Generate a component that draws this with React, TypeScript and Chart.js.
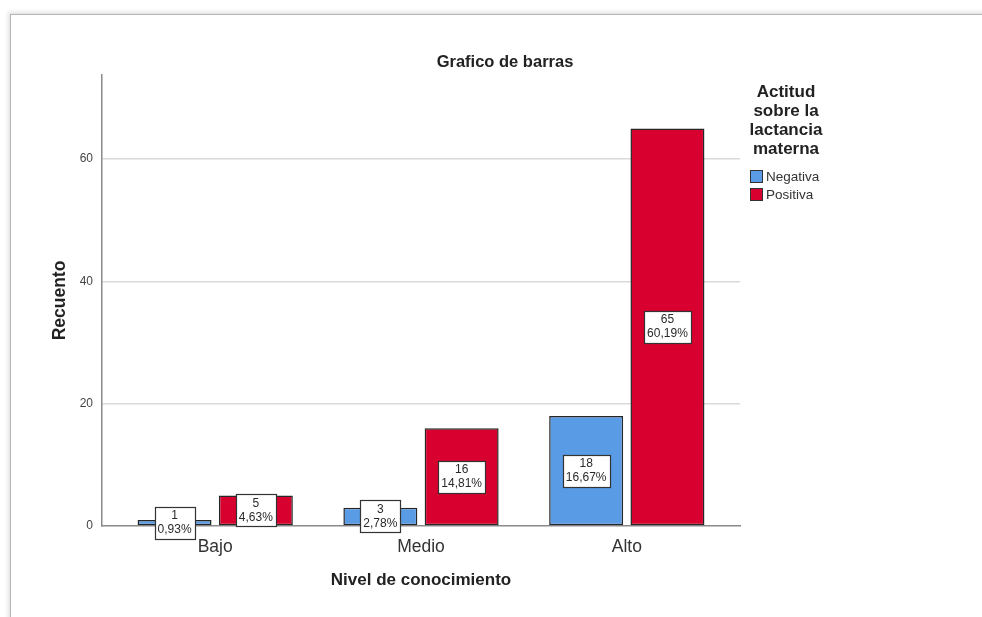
import React, { useEffect, useRef } from 'react';
import { Chart, registerables } from 'chart.js';

Chart.register(...registerables);

const chartTitle = 'Grafico de barras';
const xTitle = 'Nivel de conocimiento';
const yTitle = 'Recuento';
const legendTitle = ['Actitud', 'sobre la', 'lactancia', 'materna'];
const categories = ['Bajo', 'Medio', 'Alto'];
const seriesNames = ['Negativa', 'Positiva'];
const negativa = [1, 3, 18];
const positiva = [5, 16, 65];
const negativaPct = ['0,93%', '2,78%', '16,67%'];
const positivaPct = ['4,63%', '14,81%', '60,19%'];
const yTicks = [0, 20, 40, 60];
const seriesColors = ['#5a9be6', '#d7002f'];

const FONT = '"Liberation Sans", Arial, sans-serif';

const labelsPlugin = {
  id: 'valueBoxes',
  afterDatasetsDraw(chart: any) {
    const ctx = chart.ctx;
    const pctSets = [negativaPct, positivaPct];
    const valSets = [negativa, positiva];
    ctx.save();
    ctx.font = `12px ${FONT}`;
    ctx.textAlign = 'center';
    ctx.textBaseline = 'middle';
    chart.data.datasets.forEach((ds: any, di: number) => {
      const meta = chart.getDatasetMeta(di);
      meta.data.forEach((el: any, i: number) => {
        const l1 = String(valSets[di][i]);
        const l2 = pctSets[di][i];
        const w = Math.round(Math.max(ctx.measureText(l1).width, ctx.measureText(l2).width) + 6);
        const h = 32;
        const cx = el.x;
        const cy = (el.y + el.base) / 2;
        const x0 = Math.round(cx - w / 2) + 0.5;
        const y0 = Math.round(cy - h / 2) + 0.5;
        ctx.fillStyle = '#ffffff';
        ctx.fillRect(x0, y0, w, h);
        ctx.strokeStyle = '#333333';
        ctx.lineWidth = 1.2;
        ctx.strokeRect(x0, y0, w, h);
        ctx.fillStyle = '#2a2a2a';
        ctx.fillText(l1, cx, cy - 7);
        ctx.fillText(l2, cx, cy + 7);
      });
    });
    ctx.restore();
  },
};

const textPlugin = {
  id: 'textDecor',
  afterDraw(chart: any) {
    const ctx = chart.ctx;
    const area = chart.chartArea;
    ctx.save();
    ctx.fillStyle = '#222222';
    ctx.textAlign = 'center';
    ctx.textBaseline = 'middle';
    // chart title
    ctx.font = `bold 16.5px ${FONT}`;
    ctx.fillText(chartTitle, 505, 62);
    // x title
    ctx.font = `bold 17px ${FONT}`;
    ctx.fillText(xTitle, (area.left + area.right) / 2, 580);
    // y title
    ctx.save();
    ctx.translate(60, (area.top + area.bottom) / 2);
    ctx.rotate(-Math.PI / 2);
    ctx.font = `bold 17.5px ${FONT}`;
    ctx.fillText(yTitle, 0, 0);
    ctx.restore();
    // legend
    ctx.font = `bold 17px ${FONT}`;
    legendTitle.forEach((t, i) => ctx.fillText(t, 786, 92 + i * 19));
    ctx.textAlign = 'left';
    ctx.font = `13.5px ${FONT}`;
    seriesNames.forEach((name, i) => {
      const y = 177 + i * 18;
      ctx.fillStyle = seriesColors[i];
      ctx.fillRect(750.5, y - 6.5, 12, 12);
      ctx.strokeStyle = '#333333';
      ctx.lineWidth = 1;
      ctx.strokeRect(750.5, y - 6.5, 12, 12);
      ctx.fillStyle = '#333333';
      ctx.fillText(name, 766, y);
    });
    ctx.restore();
  },
};

export default function App() {
  const canvasRef = useRef<HTMLCanvasElement | null>(null);

  useEffect(() => {
    const canvas = canvasRef.current;
    if (!canvas) return;
    const barStyle = {
      borderColor: '#262626',
      borderWidth: 1.5,
      borderSkipped: false,
      categoryPercentage: 0.79,
      barPercentage: 0.91,
    };
    const chart = new Chart(canvas, {
      type: 'bar',
      data: {
        datasets: [
          {
            label: seriesNames[0],
            data: categories.map((_, i) => ({ x: i, y: negativa[i] })),
            backgroundColor: seriesColors[0],
            ...barStyle,
          },
          {
            label: seriesNames[1],
            data: categories.map((_, i) => ({ x: i, y: positiva[i] })),
            backgroundColor: seriesColors[1],
            ...barStyle,
          },
        ],
      } as any,
      options: {
        responsive: false,
        animation: false,
        layout: { padding: { left: 0, right: 242, top: 75, bottom: 0 } },
        plugins: {
          legend: { display: false },
          tooltip: { enabled: false },
          title: { display: false },
        },
        scales: {
          x: {
            type: 'linear',
            min: -0.55,
            max: 2.55,
            offset: false,
            afterFit(scale: any) {
              scale.height = 91;
            },
            afterBuildTicks(scale: any) {
              scale.ticks = categories.map((_, i) => ({ value: i }));
            },
            ticks: {
              autoSkip: false,
              maxRotation: 0,
              padding: 11,
              color: '#333333',
              font: { family: FONT, size: 17.5 },
              callback: (v: any) => categories[v] ?? '',
            },
            grid: { display: false, drawTicks: false },
            border: { display: true, color: '#8a8a8a', width: 1.5 },
          },
          y: {
            min: 0,
            max: 73.75,
            afterFit(scale: any) {
              scale.width = 102;
            },
            afterBuildTicks(scale: any) {
              scale.ticks = yTicks.map((v) => ({ value: v }));
            },
            ticks: {
              padding: 9,
              color: '#444444',
              font: { family: FONT, size: 12 },
            },
            grid: {
              drawTicks: false,
              color: (c: any) => (c.tick && c.tick.value === 0 ? 'rgba(0,0,0,0)' : '#d9d9d9'),
              lineWidth: 1.5,
            },
            border: { display: true, color: '#8a8a8a', width: 1.5 },
          },
        },
      } as any,
      plugins: [labelsPlugin, textPlugin],
    });
    return () => chart.destroy();
  }, []);

  return (
    <div
      style={{
        position: 'absolute',
        left: 0,
        top: 0,
        width: 982,
        height: 617,
        background: '#ffffff',
        overflow: 'hidden',
      }}
    >
      <div
        style={{
          position: 'absolute',
          left: 10,
          top: 14,
          width: 1000,
          height: 700,
          borderTop: '1.5px solid #b5b5b5',
          borderLeft: '1.5px solid #b5b5b5',
          boxShadow: '-2px -2px 4px rgba(0,0,0,0.12)',
        }}
      />
      <canvas
        ref={canvasRef}
        width={982}
        height={617}
        style={{ position: 'absolute', left: 0, top: 0 }}
      />
    </div>
  );
}
